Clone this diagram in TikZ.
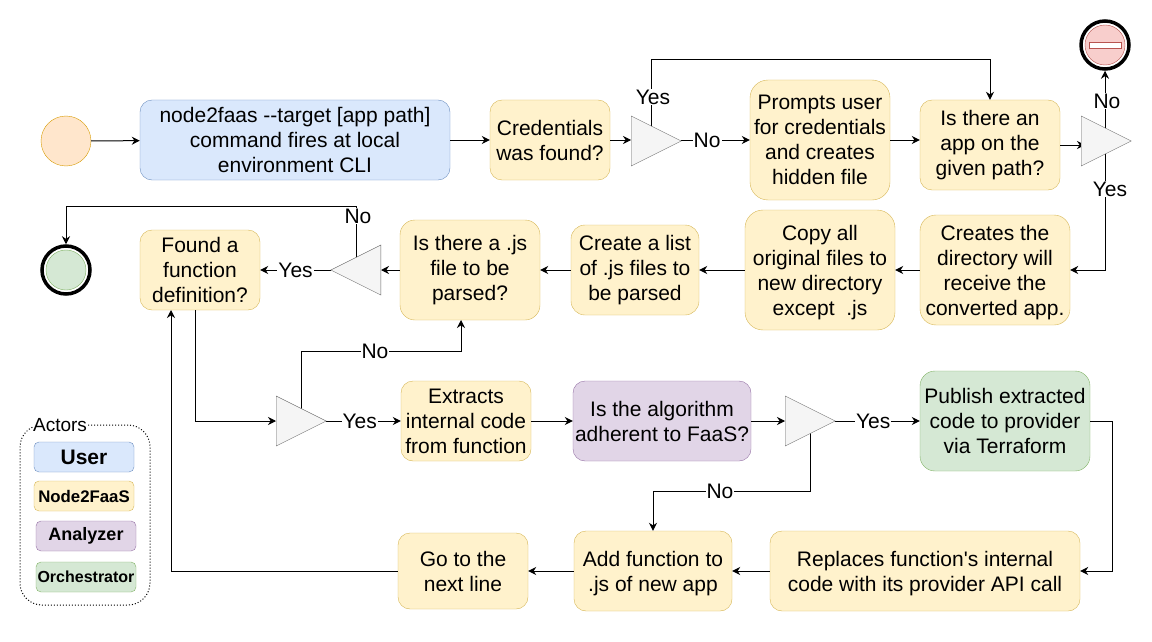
\documentclass[tikz,border=0pt]{standalone}
\usepackage{fontspec}
\setmainfont{Liberation Sans}
\usetikzlibrary{arrows.meta,shapes.geometric}
\definecolor{cBlueF}{HTML}{DAE8FC}
\definecolor{cBlueD}{HTML}{6C8EBF}
\definecolor{cYelF}{HTML}{FFF2CC}
\definecolor{cYelD}{HTML}{D6B656}
\definecolor{cPurF}{HTML}{E1D5E7}
\definecolor{cPurD}{HTML}{9673A6}
\definecolor{cGrnF}{HTML}{D5E8D4}
\definecolor{cGrnD}{HTML}{82B366}
\definecolor{cRedF}{HTML}{F8CECC}
\definecolor{cRedD}{HTML}{B85450}
\definecolor{cOrgF}{HTML}{FFE6CC}
\definecolor{cOrgD}{HTML}{D79B00}
\newcommand{\DropText}{\rule{0pt}{20pt}}
\tikzstyle{StepBox}=[draw,rounded corners=12,inner sep=0,align=center,font=\fontsize{21}{25}\selectfont]
\tikzstyle{Tool}=[StepBox,fill=cYelF,draw=cYelD]
\tikzstyle{Legend}=[draw,rounded corners=5,inner sep=0,minimum width=100,minimum height=30]
\tikzstyle{Gate}=[draw=black!60,fill=black!4,isosceles triangle,isosceles triangle apex angle=53.13,minimum width=50,inner sep=0,anchor=lower side]
\tikzstyle{EdgeStyle}=[-{Stealth[length=8,width=8]},line width=1]
\tikzstyle{EdgeText}=[fill=white,inner sep=1,font=\fontsize{21}{25}\selectfont]
\begin{document}
\begin{tikzpicture}[x=1pt,y=-1pt]
  \useasboundingbox (0,0) rectangle (1152,642);
  \node[circle,draw=cOrgD,fill=cOrgF,minimum size=50,inner sep=0] (start) at (66,141) {};
  \node[StepBox,fill=cBlueF,draw=cBlueD,minimum width=310,minimum height=80] (fires) at (295,140) {node2faas -{}-target [app path]\\command fires at local\\environment CLI};
  \node[Tool,minimum width=120,minimum height=80] (cred) at (550,140) {Credentials\\was found?};
  \node[Tool,rounded corners=18,minimum width=140,minimum height=120] (prompts) at (820,140) {Prompts user\\for credentials\\and creates\\hidden file};
  \node[Tool,minimum width=140,minimum height=90] (isapp) at (990,145) {Is there an\\app on the\\given path?};
  \node[Tool,rounded corners=16,minimum width=150,minimum height=110] (newdir) at (995,270) {\DropText Creates the\\directory will\\receive the\\converted app.};
  \node[Tool,rounded corners=18,minimum width=150,minimum height=120] (copy) at (820,270) {\DropText Copy all\\original files to\\new directory\\except~ .js};
  \node[Tool,rounded corners=14,minimum width=128,minimum height=90] (list) at (635,270) {Create a list\\of .js files to\\be parsed};
  \node[Tool,rounded corners=15,minimum width=140,minimum height=100] (isjs) at (470,270) {Is there a .js\\file to be\\parsed?};
  \node[Tool,minimum width=120,minimum height=80] (found) at (200,270) {Found a\\function\\definition?};
  \node[Tool,minimum width=130,minimum height=80] (extract) at (466,421) {Extracts\\internal code\\from function};
  \node[StepBox,fill=cPurF,draw=cPurD,minimum width=178,minimum height=80] (adherent) at (662,421) {Is the algorithm\\adherent to FaaS?};
  \node[StepBox,fill=cGrnF,draw=cGrnD,rounded corners=15,minimum width=170,minimum height=100] (publish) at (1005,421) {Publish extracted\\code to provider\\via Terraform};
  \node[Tool,minimum width=310,minimum height=80] (replace) at (925,571) {\DropText Replaces function\textquotesingle s internal\\code with its provider API call};
  \node[Tool,minimum width=158,minimum height=80] (add) at (653,571) {\DropText Add function to\\.js of new app};
  \node[Tool,minimum width=130,minimum height=76] (next) at (463,571) {Go to the\\next line};

  \coordinate (gcredup) at (651,131);
  \coordinate (gappup) at (1105,129);
  \coordinate (gappdown) at (1105,153);
  \coordinate (gjsup) at (356,258);
  \coordinate (gfuncup) at (301,409);
  \coordinate (gfaasdown) at (810,433);

  \node[circle,draw,line width=3.5,fill=white,minimum size=48,inner sep=0] (stop) at (1105,45) {};
  \node[circle,draw=cRedD,fill=cRedF,minimum size=40,inner sep=0] (stopin) at (1105,45) {};
  \node[draw=cRedD,fill=white,minimum width=32,minimum height=6,inner sep=0] (stopbar) at (1105,45) {};
  \node[circle,draw,line width=3.5,fill=white,minimum size=48,inner sep=0] (end) at (66,270) {};
  \node[circle,draw=cGrnD,fill=cGrnF,minimum size=40,inner sep=0] (endin) at (66,270) {};

  \draw[EdgeStyle] (start) -- (fires);
  \draw[EdgeStyle] (fires) -- (cred);
  \draw[EdgeStyle] (cred) -- (631,140);
  \draw[EdgeStyle] (681,140) -- (prompts.west) node[EdgeText,pos=0.38] (no1) {No};
  \draw[EdgeStyle] (gcredup) -- (651,60) -- (990,60) -- (isapp.north);
  \node[EdgeText] (yes1) at (653,97) {Yes};
  \draw[EdgeStyle] (prompts.east) -- (prompts.east -| isapp.west);
  \draw[EdgeStyle] (isapp.east) -- (1085,145);
  \draw[EdgeStyle] (gappup) -- (stop.south);
  \node[EdgeText] (no2) at (1107,101) {No};
  \draw[EdgeStyle] (gappdown) -- (1105,270) -- (newdir.east);
  \node[EdgeText] (yes2) at (1110,189) {Yes};
  \draw[EdgeStyle] (newdir) -- (copy);
  \draw[EdgeStyle] (copy) -- (list);
  \draw[EdgeStyle] (list) -- (isjs);
  \draw[EdgeStyle] (isjs) -- (381,270);
  \draw[EdgeStyle] (331,270) -- (found.east) node[EdgeText,pos=0.5] (yes3) {Yes};
  \draw[EdgeStyle] (gjsup) -- (356,206) -- (66,206) -- (end.north);
  \node[EdgeText] (no3) at (358,216) {No};
  \draw[EdgeStyle] (195,310) -- (195,421) -- (276,421);
  \draw[EdgeStyle] (326,421) -- (extract.west) node[EdgeText,pos=0.45] (yes4) {Yes};
  \draw[EdgeStyle] (gfuncup) -- (301,351) -- (461,351) -- (461,320);
  \node[EdgeText] (no4) at (375,351) {No};
  \draw[EdgeStyle] (extract) -- (adherent);
  \draw[EdgeStyle] (adherent) -- (785,421);
  \draw[EdgeStyle] (835,421) -- (publish.west) node[EdgeText,pos=0.45] (yes5) {Yes};
  \draw[EdgeStyle] (gfaasdown) -- (810,491) -- (653,491) -- (add.north);
  \node[EdgeText] (no5) at (720,491) {No};
  \draw[EdgeStyle] (publish.east) -- (1112,421) -- (1112,571) -- (replace.east);
  \draw[EdgeStyle] (replace) -- (add);
  \draw[EdgeStyle] (add) -- (next);
  \draw[EdgeStyle] (next) -- (171,571) -- (171,310);

  \node[Gate] (gcred) at (631,141) {};
  \node[Gate] (gapp) at (1081,141) {};
  \node[Gate,shape border rotate=180] (gjs) at (381,270) {};
  \node[Gate] (gfunc) at (276,421) {};
  \node[Gate] (gfaas) at (785,421) {};

  \node[draw,dotted,line width=1,rounded corners=22,minimum width=130,minimum height=180,inner sep=0] (actors) at (85,515) {};
  \node[EdgeText,inner sep=0,font=\fontsize{19}{20}\selectfont] (actorstext) at (60,425) {Actors};
  \node[Legend,fill=cBlueF,draw=cBlueD,font=\fontsize{21}{20}\selectfont\bfseries] (luser) at (84,457) {User};
  \node[Legend,fill=cYelF,draw=cYelD,font=\fontsize{16.8}{20}\selectfont\bfseries] (lnode) at (84,496) {Node2FaaS};
  \node[Legend,fill=cPurF,draw=cPurD,font=\fontsize{18}{20}\selectfont\bfseries] (lanalyzer) at (86,536) {Analyzer};
  \node[Legend,fill=cGrnF,draw=cGrnD,font=\fontsize{16}{20}\selectfont\bfseries] (lorch) at (86,577) {Orchestrator};
\end{tikzpicture}
\end{document}
